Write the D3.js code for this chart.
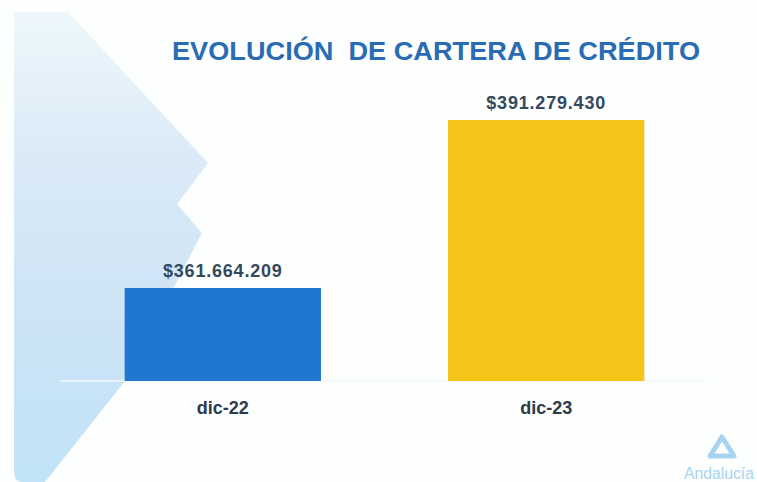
<!DOCTYPE html>
<html>
<head>
<meta charset="utf-8">
<script src="https://cdn.jsdelivr.net/npm/d3@7"></script>
<style>
  html, body { margin: 0; padding: 0; background: #fdfefe; }
  svg { display: block; }
</style>
</head>
<body>
<svg id="chart"></svg>
<script>
const width = 757;
const height = 482;

// Chart data
const categories = ["dic-22", "dic-23"];
const values = [361664209, 391279430];
const valueLabels = ["$361.664.209", "$391.279.430"];
const barColors = ["#1f77d0", "#f6c519"];

const svg = d3.select("#chart")
    .attr("width", width)
    .attr("height", height);

// Background gradient for the chevron decoration
const defs = svg.append("defs");
const grad = defs.append("linearGradient")
    .attr("id", "bgGrad")
    .attr("x1", 0).attr("y1", 0).attr("x2", 0).attr("y2", 1);
grad.append("stop").attr("offset", 0).attr("stop-color", "#eef8fc");
grad.append("stop").attr("offset", 0.3).attr("stop-color", "#dbeaf7");
grad.append("stop").attr("offset", 0.65).attr("stop-color", "#cde4f6");
grad.append("stop").attr("offset", 1).attr("stop-color", "#c1e3f7");

// Decorative chevron shape on the left
svg.append("path")
    .attr("d", "M14,12 L68,12 L208,163 L177,204 L202,233 L125,381 L45,482 L22,482 Q14,482 14,470 Z")
    .attr("fill", "url(#bgGrad)");

// Scales
const x = d3.scaleBand()
    .domain(categories)
    .range([60, 709])
    .paddingInner(0.393)
    .paddingOuter(0.2);

const y = d3.scaleLinear()
    .domain([345270000, 391279430])
    .range([381, 120]);

// Baseline
svg.append("line")
    .attr("x1", 60).attr("x2", 709)
    .attr("y1", y.range()[0]).attr("y2", y.range()[0])
    .attr("stroke", "#f4f8fb")
    .attr("stroke-width", 1.5);

// Bars
svg.selectAll(".bar")
    .data(values)
    .enter().append("rect")
    .attr("class", "bar")
    .attr("x", (d, i) => x(categories[i]))
    .attr("width", x.bandwidth())
    .attr("y", d => y(d))
    .attr("height", d => y.range()[0] - y(d))
    .attr("fill", (d, i) => barColors[i]);

// Value labels
svg.selectAll(".value")
    .data(values)
    .enter().append("text")
    .attr("class", "value")
    .attr("x", (d, i) => x(categories[i]) + x.bandwidth() / 2)
    .attr("y", d => y(d) - 11)
    .attr("text-anchor", "middle")
    .attr("font-family", "Liberation Sans, Arial, sans-serif")
    .attr("font-weight", "bold")
    .attr("font-size", 18)
    .attr("letter-spacing", 0.8)
    .attr("fill", "#34495e")
    .text((d, i) => valueLabels[i]);

// Category labels
const xAxis = svg.append("g")
    .attr("transform", `translate(0,${y.range()[0]})`)
    .call(d3.axisBottom(x).tickSize(0).tickPadding(33));
xAxis.select(".domain").remove();
xAxis.selectAll("text")
    .attr("font-family", "Liberation Sans, Arial, sans-serif")
    .attr("font-weight", "bold")
    .attr("font-size", 18)
    .attr("dy", 0)
    .attr("fill", "#2c3a4a");

// Title
svg.append("text")
    .attr("x", 172)
    .attr("y", 60)
    .attr("font-family", "Liberation Sans, Arial, sans-serif")
    .attr("font-weight", "bold")
    .attr("font-size", 26)
    .attr("fill", "#2a6cb4")
    .attr("textLength", 528)
    .attr("lengthAdjust", "spacingAndGlyphs")
    .style("white-space", "pre")
    .text("EVOLUCIÓN  DE CARTERA DE CRÉDITO");

// Logo in the bottom-right corner
svg.append("path")
    .attr("d", "M722,437 L734,456 L710,456 Z")
    .attr("fill", "none")
    .attr("stroke", "#a8d4f1")
    .attr("stroke-width", 5)
    .attr("stroke-linejoin", "round");
svg.append("text")
    .attr("x", 684)
    .attr("y", 479)
    .attr("font-family", "Liberation Sans, Arial, sans-serif")
    .attr("font-size", 16)
    .attr("fill", "#a8d4f1")
    .attr("textLength", 70)
    .attr("lengthAdjust", "spacingAndGlyphs")
    .text("Andalucía");
</script>
</body>
</html>
